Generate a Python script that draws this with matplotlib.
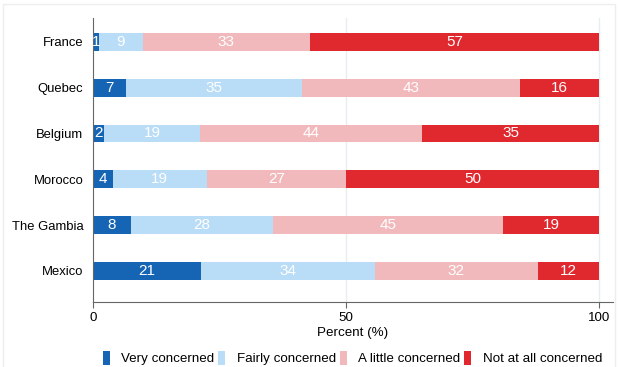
import matplotlib.pyplot as plt
from matplotlib.patches import Rectangle, Patch

plt.rcParams['font.family'] = ['Liberation Sans', 'DejaVu Sans']

# data
countries = ['France', 'Quebec', 'Belgium', 'Morocco', 'The Gambia', 'Mexico']
categories = ['Very concerned', 'Fairly concerned', 'A little concerned', 'Not at all concerned']
very = [1.2, 6.6, 2.2, 3.9, 7.5, 21.3]
fairly = [8.6, 34.6, 18.9, 18.6, 28.0, 34.3]
little = [33.0, 43.2, 43.8, 27.4, 45.4, 32.2]
not_at_all = [57.2, 15.6, 35.1, 50.1, 19.1, 12.2]
colors = ['#1565b4', '#b9dcf7', '#f2b9bc', '#e0282f']

fig = plt.figure(figsize=(6.18, 3.67), dpi=100)
fig.patches.append(Rectangle((0.005, -0.01), 0.99, 1.0, transform=fig.transFigure,
                             fill=False, edgecolor='#eeeeee', linewidth=1))
ax = fig.add_axes([0.1505, 0.1771, 0.8414, 0.7738])

ypos = list(range(len(countries)))[::-1]
series = [very, fairly, little, not_at_all]
left = [0.0] * len(countries)
for vals, col in zip(series, colors):
    ax.barh(ypos, vals, left=left, height=0.39, color=col, edgecolor='none')
    for y, l, v in zip(ypos, left, vals):
        ax.text(l + v / 2, y, str(int(round(v))), ha='center', va='center',
                color='white', fontsize=11)
    left = [l + v for l, v in zip(left, vals)]

ax.set_xlim(0, 102.7)
ax.set_ylim(-0.68, 5.52)
ax.set_yticks(ypos)
ax.set_yticklabels(countries, fontsize=9.4)
ax.set_xticks([0, 50, 100])
ax.set_xticklabels(['0', '50', '100'], fontsize=9.6)
ax.set_xlabel('Percent (%)', fontsize=9.6, labelpad=2)
ax.tick_params(axis='y', length=0, pad=7)
ax.tick_params(axis='x', length=4, color='#666666', pad=3)
for x in [50, 100]:
    ax.axvline(x, color='#e6eef0', linewidth=1, zorder=0)
for s in ['top', 'right']:
    ax.spines[s].set_visible(False)
ax.spines['left'].set_color('#666666')
ax.spines['bottom'].set_color('#666666')

handles = [Patch(facecolor=c, edgecolor='none') for c in colors]
fig.legend(handles, categories, loc='center', bbox_to_anchor=(0.570, 0.0245),
           ncol=4, frameon=False, fontsize=9.6, handlelength=0.53, handleheight=1.35,
           handletextpad=0.85, columnspacing=0.3, borderpad=0, borderaxespad=0)

fig.savefig('out.png', dpi=100)
